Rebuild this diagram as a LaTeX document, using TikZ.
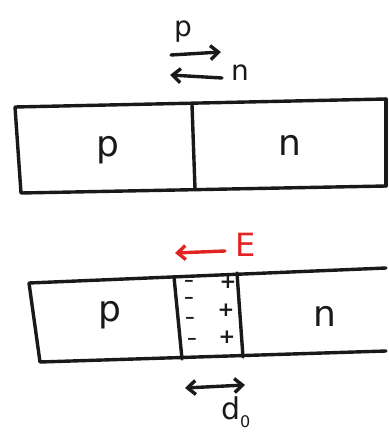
\documentclass[tikz,border=0pt]{standalone}
\usepackage{fontspec}
\setmainfont{DejaVu Sans}
\usetikzlibrary{arrows.meta}
\definecolor{ered}{RGB}{225,35,35}
\definecolor{ink}{RGB}{25,25,25}
\tikzset{
  x=1pt,y=-1pt,
  pen/.style={draw=ink,line width=3.4pt,line cap=round,line join=round},
  arr/.style={pen,-{Straight Barb[length=8pt,width=14pt,line width=3.4pt]}},
  darr/.style={pen,{Straight Barb[length=8pt,width=14pt,line width=3.4pt]}-{Straight Barb[length=8pt,width=14pt,line width=3.4pt]}},
  big/.style={font=\fontsize{36}{38}\selectfont,text=ink,inner sep=0pt},
  mid/.style={font=\fontsize{28}{30}\selectfont,text=ink,inner sep=0pt},
  sign/.style={font=\fontsize{20}{20}\selectfont\bfseries,text=ink,inner sep=0pt},
  minus/.style={font=\fontsize{15}{15}\selectfont\bfseries,text=ink,inner sep=0pt},
}
\begin{document}
\begin{tikzpicture}
\useasboundingbox (0,0) rectangle (388,435);
% top legend
\node[mid] (ptop) at (183,32) {p};
\coordinate (a1s) at (171,55);
\coordinate (a1e) at (221,52);
\draw[arr] (a1s) -- (a1e);
\coordinate (a2s) at (222,78);
\coordinate (a2e) at (170,75);
\draw[arr] (a2s) -- (a2e);
\node[mid] (ntop) at (240,73) {n};
% top box
\coordinate (t1) at (15,107);
\coordinate (t2) at (386,99);
\coordinate (t3) at (386,186);
\coordinate (t4) at (21,193);
\draw[pen] (t1) -- (t2) (t3) -- (t4) -- (t1);
\draw[pen] (t2) -- (t3);
\coordinate (td1) at (192,105);
\coordinate (td2) at (195,189);
\draw[pen] (td1) -- (td2);
\node[big] (pup) at (108,150) {p};
\node[big] (nup) at (290,145) {n};
% E field
\coordinate (es) at (225,251);
\coordinate (ee) at (175,253);
\draw[arr,draw=ered] (es) -- (ee);
\node[font=\fontsize{32}{32}\selectfont,text=ered,inner sep=0pt] (E) at (246,245) {E};
% bottom box
\coordinate (b1) at (29,283);
\coordinate (b2) at (386,268);
\coordinate (b3) at (386,351);
\coordinate (b4) at (40,362);
\draw[pen] (b1) -- (b2) (b3) -- (b4) -- (b1);
\coordinate (dl1) at (174,277);
\coordinate (dl2) at (182,359);
\coordinate (dr1) at (237,273);
\coordinate (dr2) at (243,357);
\draw[pen] (dl1) -- (dl2);
\draw[pen] (dr1) -- (dr2);
\node[minus] (m1) at (189,283) {\scalebox{1.3}[1]{–}};
\node[minus] (m2) at (189,300) {\scalebox{1.3}[1]{–}};
\node[minus] (m3) at (190,320) {\scalebox{1.3}[1]{–}};
\node[minus] (m4) at (192,341) {\scalebox{1.3}[1]{–}};
\node[sign] (s1) at (228,282) {+};
\node[sign] (s2) at (226,310) {+};
\node[sign] (s3) at (227,337) {+};
\node[big] (pdn) at (110,315) {p};
\node[big] (ndn) at (325,316) {n};
% width arrow
\coordinate (w1) at (185,388);
\coordinate (w2) at (245,385);
\draw[darr] (w1) -- (w2);
\node[font=\fontsize{30}{30}\selectfont,text=ink,inner sep=0pt,anchor=west] (d0) at (221,412) {d\raisebox{-0.25em}{\fontsize{16}{16}\selectfont 0}};
\end{tikzpicture}
\end{document}
